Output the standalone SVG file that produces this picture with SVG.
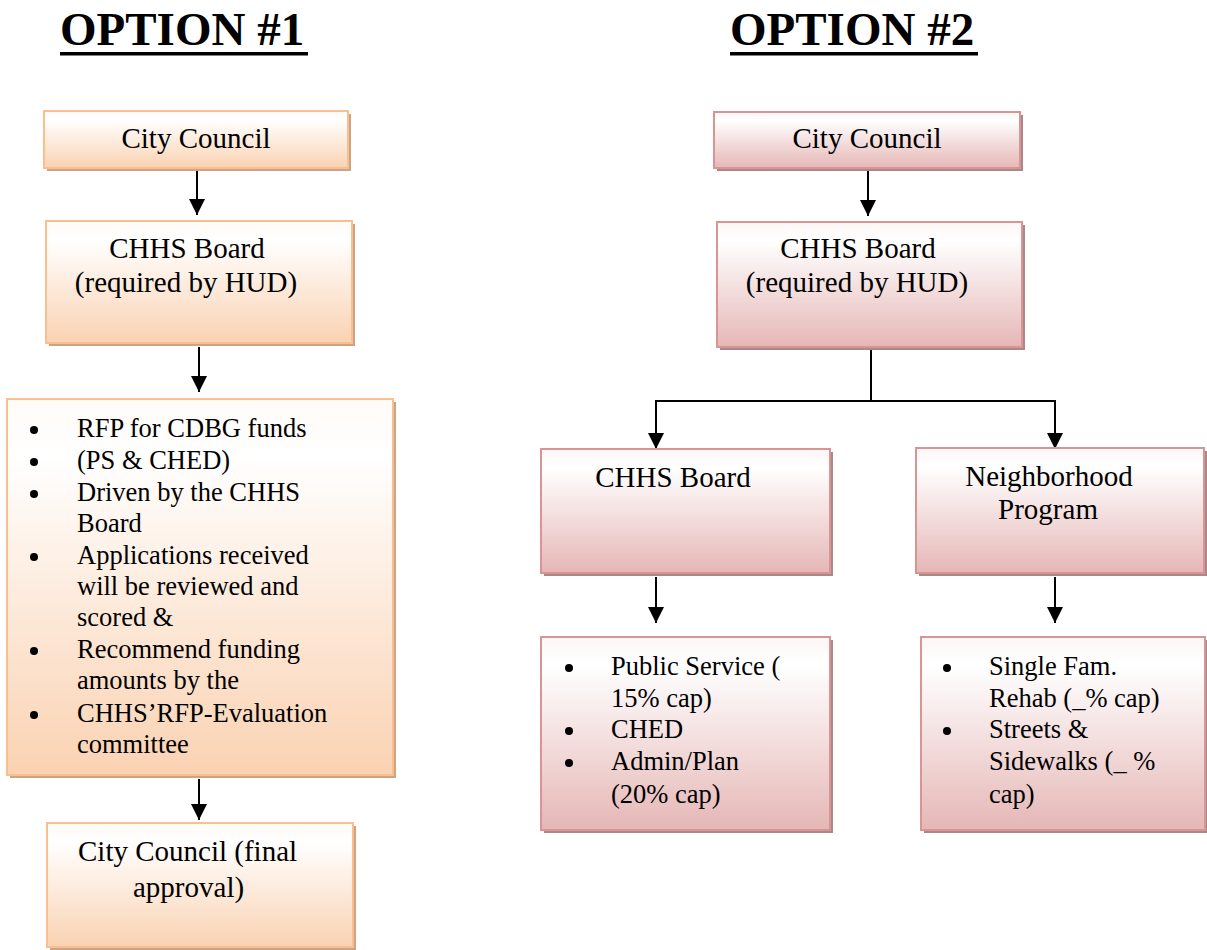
<svg xmlns="http://www.w3.org/2000/svg" width="1207" height="950" viewBox="0 0 1207 950">
<defs>
<linearGradient id="gOrange" x1="0" y1="0" x2="0" y2="1">
<stop offset="0" stop-color="#fffaf6"/>
<stop offset="0.15" stop-color="#ffffff"/>
<stop offset="1" stop-color="#fad2b2"/>
</linearGradient>
<linearGradient id="gRose" x1="0" y1="0" x2="0" y2="1">
<stop offset="0" stop-color="#fdf6f6"/>
<stop offset="0.15" stop-color="#ffffff"/>
<stop offset="1" stop-color="#e5b7b6"/>
</linearGradient>
<marker id="arr" viewBox="0 0 16 16" refX="8" refY="16" markerWidth="16" markerHeight="16" markerUnits="userSpaceOnUse" orient="auto-start-reverse">
<path d="M0,0 L16,0 L8,16 Z" fill="#000"/>
</marker>
<marker id="arrDown" viewBox="0 0 16 16" refX="8" refY="16" markerWidth="16" markerHeight="16" markerUnits="userSpaceOnUse" orient="0">
<path d="M0,0 L16,0 L8,16 Z" fill="#000"/>
</marker>
</defs>
<style>
.t{font-family:"Liberation Serif","Times New Roman",serif;fill:#000;}
.title{font-size:47px;font-weight:bold;}
.h{font-size:29px;}
.b{font-size:26.5px;}
.mid{text-anchor:middle;}
.shO{fill:#cfa283;}
.shR{fill:#ab8787;}
.bxO{fill:url(#gOrange);stroke:#f9bf8f;stroke-width:2;}
.bxR{fill:url(#gRose);stroke:#d99594;stroke-width:2;}
.con{stroke:#000;stroke-width:2;fill:none;}
.dot{fill:#000;}
</style>
<rect width="1207" height="950" fill="#fff"/>

<g id="title1">
<text class="t title" x="60" y="45">OPTION #1</text>
<rect x="60" y="52" width="248" height="3.5" fill="#000"/>
</g>
<g id="title2">
<text class="t title" x="730" y="45">OPTION #2</text>
<rect x="730" y="52" width="248" height="3.5" fill="#000"/>
</g>

<g id="connectors">
<line class="con" x1="197" y1="168" x2="197" y2="215" marker-end="url(#arrDown)"/>
<line class="con" x1="199" y1="347" x2="199" y2="392" marker-end="url(#arrDown)"/>
<line class="con" x1="199" y1="779" x2="199" y2="820" marker-end="url(#arrDown)"/>
<line class="con" x1="868" y1="168" x2="868" y2="216" marker-end="url(#arrDown)"/>
<polyline class="con" points="871,350 871,401"/>
<polyline class="con" points="656,449 656,401 1055,401 1055,449"/>
<line class="con" x1="656" y1="401" x2="656" y2="449" marker-end="url(#arrDown)"/>
<line class="con" x1="1055" y1="401" x2="1055" y2="449" marker-end="url(#arrDown)"/>
<line class="con" x1="656" y1="577" x2="656" y2="623" marker-end="url(#arrDown)"/>
<line class="con" x1="1055" y1="577" x2="1055" y2="623" marker-end="url(#arrDown)"/>
</g>

<g id="o1-city-council">
<rect class="shO" x="47" y="114" width="304" height="57"/>
<rect class="bxO" x="44" y="111" width="304" height="57"/>
<text class="t h mid" x="196" y="148">City Council</text>
</g>

<g id="o1-chhs-board">
<rect class="shO" x="49" y="224" width="306" height="122"/>
<rect class="bxO" x="46" y="221" width="306" height="122"/>
<text class="t h mid" x="187" y="258">CHHS Board</text>
<text class="t h mid" x="186" y="292">(required by HUD)</text>
</g>

<g id="o1-rfp">
<rect class="shO" x="10" y="402" width="386" height="376"/>
<rect class="bxO" x="7" y="399" width="386" height="376"/>
<circle class="dot" cx="34" cy="430" r="4"/>
<circle class="dot" cx="34" cy="462" r="4"/>
<circle class="dot" cx="34" cy="494" r="4"/>
<circle class="dot" cx="34" cy="557" r="4"/>
<circle class="dot" cx="34" cy="651" r="4"/>
<circle class="dot" cx="34" cy="715" r="4"/>
<text class="t b" x="77" y="437">RFP for CDBG funds</text>
<text class="t b" x="77" y="469">(PS &amp; CHED)</text>
<text class="t b" x="77" y="501">Driven by the CHHS</text>
<text class="t b" x="77" y="532">Board</text>
<text class="t b" x="77" y="564">Applications received</text>
<text class="t b" x="77" y="595">will be reviewed and</text>
<text class="t b" x="77" y="626">scored &amp;</text>
<text class="t b" x="77" y="658">Recommend funding</text>
<text class="t b" x="77" y="689">amounts by the</text>
<text class="t b" x="77" y="722">CHHS’RFP-Evaluation</text>
<text class="t b" x="77" y="753">committee</text>
</g>

<g id="o1-final">
<rect class="shO" x="50" y="826" width="306" height="124"/>
<rect class="bxO" x="47" y="823" width="306" height="124"/>
<text class="t h" x="78" y="861">City Council (final</text>
<text class="t h" x="133" y="897">approval)</text>
</g>

<g id="o2-city-council">
<rect class="shR" x="717" y="115" width="306" height="56"/>
<rect class="bxR" x="714" y="112" width="306" height="56"/>
<text class="t h mid" x="867" y="148">City Council</text>
</g>

<g id="o2-chhs-board">
<rect class="shR" x="720" y="225" width="305" height="125"/>
<rect class="bxR" x="717" y="222" width="305" height="125"/>
<text class="t h mid" x="858" y="258">CHHS Board</text>
<text class="t h mid" x="857" y="292">(required by HUD)</text>
</g>

<g id="o2-chhs">
<rect class="shR" x="544" y="452" width="289" height="124"/>
<rect class="bxR" x="541" y="449" width="289" height="124"/>
<text class="t h mid" x="673" y="487">CHHS Board</text>
</g>

<g id="o2-neighborhood">
<rect class="shR" x="919" y="451" width="288" height="125"/>
<rect class="bxR" x="916" y="448" width="288" height="125"/>
<text class="t h mid" x="1049" y="486">Neighborhood</text>
<text class="t h mid" x="1048" y="519">Program</text>
</g>

<g id="o2-chhs-list">
<rect class="shR" x="544" y="640" width="289" height="193"/>
<rect class="bxR" x="541" y="637" width="289" height="193"/>
<circle class="dot" cx="569" cy="668" r="4"/>
<circle class="dot" cx="569" cy="731" r="4"/>
<circle class="dot" cx="569" cy="763" r="4"/>
<text class="t b" x="611" y="675">Public Service (</text>
<text class="t b" x="611" y="707">15% cap)</text>
<text class="t b" x="611" y="738">CHED</text>
<text class="t b" x="611" y="770">Admin/Plan</text>
<text class="t b" x="611" y="803">(20% cap)</text>
</g>

<g id="o2-neighborhood-list">
<rect class="shR" x="924" y="640" width="284" height="193"/>
<rect class="bxR" x="921" y="637" width="284" height="193"/>
<circle class="dot" cx="947" cy="668" r="4"/>
<circle class="dot" cx="947" cy="731" r="4"/>
<text class="t b" x="989" y="675">Single Fam.</text>
<text class="t b" x="989" y="707">Rehab (_% cap)</text>
<text class="t b" x="989" y="738">Streets &amp;</text>
<text class="t b" x="989" y="770">Sidewalks (_ %</text>
<text class="t b" x="989" y="803">cap)</text>
</g>
</svg>
